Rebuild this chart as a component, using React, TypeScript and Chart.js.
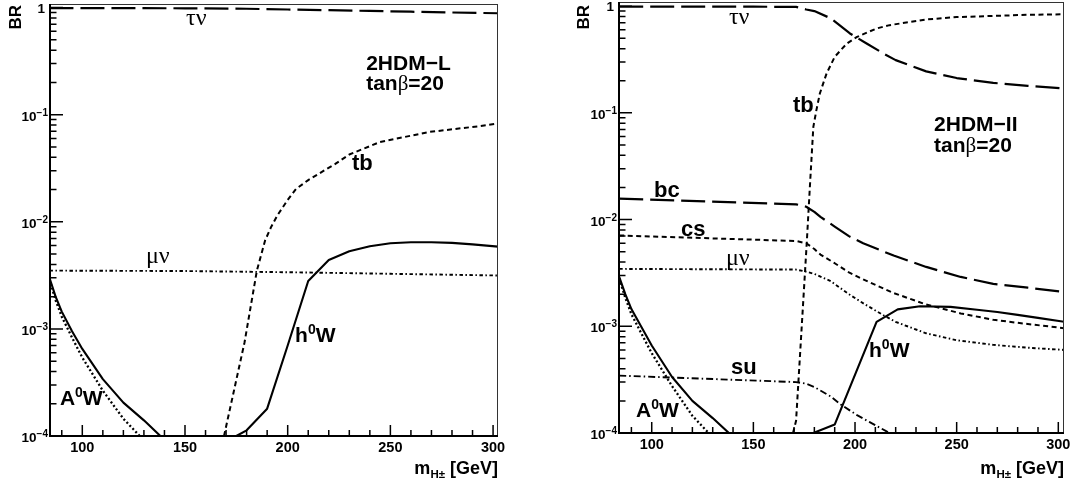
import React, { useEffect, useRef } from "react";
import { Chart, registerables } from "chart.js";

Chart.register(...registerables);

const SANS = '"Liberation Sans", Arimo, Arial, Helvetica, sans-serif';
const SERIF = '"Liberation Serif", "DejaVu Serif", serif';

// ================= Left panel: 2HDM-L, tanβ=20 =================
const xRangeL = [84.27, 302.4];
const yMaxL = 1.08;

const tauNuL_m = [84, 150, 180, 200, 220, 240, 260, 280, 303];
const tauNuL_br = [0.99, 0.985, 0.975, 0.96, 0.945, 0.93, 0.915, 0.9, 0.885];

const muNuL_m = [84, 150, 200, 250, 303];
const muNuL_br = [3.5e-3, 3.47e-3, 3.38e-3, 3.27e-3, 3.15e-3];

const tbL_m = [169, 179, 185, 189, 192, 195, 200, 204, 210, 218, 223, 230, 245, 269, 293, 303];
const tbL_br = [1e-4, 7.5e-4, 3.5e-3, 6.7e-3, 9.0e-3, 0.0115, 0.016, 0.0202, 0.0245, 0.0303, 0.0345, 0.0425, 0.0556, 0.069, 0.078, 0.083];

const h0WL_m = [175, 180, 190, 200, 210, 220, 230, 240, 250, 260, 270, 280, 290, 303];
const h0WL_br = [1e-4, 1.13e-4, 1.8e-4, 7e-4, 2.8e-3, 4.4e-3, 5.3e-3, 5.9e-3, 6.3e-3, 6.45e-3, 6.45e-3, 6.35e-3, 6.15e-3, 5.85e-3];

const A0WL_m = [84, 87, 90, 95, 100, 110, 120, 130, 140];
const A0WL_br = [3.0e-3, 2.0e-3, 1.45e-3, 9.5e-4, 6.5e-4, 3.4e-4, 2.05e-4, 1.4e-4, 9.2e-5];

const A0WdotL_m = [84, 87, 90, 95, 100, 110, 120, 130];
const A0WdotL_br = [2.9e-3, 1.85e-3, 1.3e-3, 8.3e-4, 5.4e-4, 2.65e-4, 1.45e-4, 9.1e-5];

// ================= Right panel: 2HDM-II, tanβ=20 =================
const xRangeR = [83.9, 302.8];
const yMaxR = 1.094;

const tauNuR_m = [84, 150, 171, 176, 180, 188, 197.5, 205.7, 214, 220, 235, 250, 268, 285, 303];
const tauNuR_br = [0.99, 0.988, 0.985, 0.93, 0.9, 0.77, 0.555, 0.447, 0.36, 0.312, 0.245, 0.212, 0.191, 0.179, 0.169];

const tbR_m = [169.5, 171, 176.2, 177.8, 179.5, 181, 182.7, 186, 190, 196, 201, 210.6, 217, 235, 250, 268, 285, 303];
const tbR_br = [1e-4, 1.3e-4, 5.8e-3, 0.0204, 0.074, 0.106, 0.152, 0.234, 0.335, 0.447, 0.515, 0.618, 0.664, 0.75, 0.79, 0.81, 0.83, 0.84];

const bcR_m = [84, 171, 176, 180, 183, 190, 197, 204, 219, 235, 252, 268, 285, 303];
const bcR_br = [0.0157, 0.0139, 0.0132, 0.0118, 0.0106, 8.6e-3, 7.0e-3, 6.0e-3, 4.6e-3, 3.6e-3, 2.9e-3, 2.5e-3, 2.3e-3, 2.1e-3];

const csR_m = [84, 171, 176, 180, 183, 190, 197, 204, 219, 235, 252, 268, 285, 303];
const csR_br = [7.1e-3, 6.3e-3, 6.0e-3, 5.3e-3, 4.7e-3, 3.9e-3, 3.2e-3, 2.75e-3, 2.05e-3, 1.6e-3, 1.32e-3, 1.15e-3, 1.05e-3, 9.6e-4];

const muNuR_m = [84, 171, 176, 180, 188, 197, 205, 214, 220, 235, 250, 268, 285, 303];
const muNuR_br = [3.45e-3, 3.4e-3, 3.25e-3, 3.1e-3, 2.65e-3, 2.0e-3, 1.6e-3, 1.27e-3, 1.1e-3, 8.6e-4, 7.4e-4, 6.7e-4, 6.3e-4, 6.0e-4];

const suR_m = [84, 171, 176, 180, 188, 193, 201, 207, 217, 230];
const suR_br = [3.45e-4, 3.0e-4, 2.9e-4, 2.7e-4, 2.2e-4, 1.85e-4, 1.47e-4, 1.27e-4, 1.0e-4, 7.5e-5];

const h0WR_m = [179.5, 190, 210.6, 221, 232, 247, 260, 270, 280, 290, 303];
const h0WR_br = [1e-4, 1.2e-4, 1.1e-3, 1.44e-3, 1.54e-3, 1.52e-3, 1.43e-3, 1.36e-3, 1.28e-3, 1.2e-3, 1.1e-3];

const A0WR_m = [84, 87, 90, 95, 100, 110, 120, 130, 140];
const A0WR_br = [2.9e-3, 2.0e-3, 1.45e-3, 9.8e-4, 6.6e-4, 3.35e-4, 2.0e-4, 1.38e-4, 9.2e-5];

const A0WdotR_m = [84, 87, 90, 95, 100, 110, 120, 130];
const A0WdotR_br = [2.8e-3, 1.85e-3, 1.3e-3, 8.5e-4, 5.6e-4, 2.75e-4, 1.45e-4, 9.1e-5];

// ================= Axis ticks =================
const xMajorTicks = [100, 150, 200, 250, 300];
const xMajorLabels = ["100", "150", "200", "250", "300"];
const xMinorTicks = [90, 110, 120, 130, 140, 160, 170, 180, 190, 210, 220, 230, 240, 260, 270, 280, 290];
const yMajorTicks = [1e-4, 1e-3, 1e-2, 1e-1, 1];
const yMajorExp = ["−4", "−3", "−2", "−1", ""];
const yMinorMult = [2, 3, 4, 5, 6, 7, 8, 9];
const yDecades = [1e-4, 1e-3, 1e-2, 1e-1];

// ================= Styles =================
const STY = {
  longDash: { w: 2.2, dash: [24, 7] },
  shortDash: { w: 2, dash: [5, 3.5] },
  dashDotSmall: { w: 1.9, dash: [3.5, 2.5, 1.5, 2.5] },
  dashDot: { w: 1.9, dash: [7, 3, 1.5, 3] },
  solid: { w: 2.1, dash: [] as number[] },
  dotted: { w: 2.3, dash: [2, 2.3] },
};

type Part = { t: string; size: number; bold?: boolean; serif?: boolean; dy?: number };
const B = (t: string, size = 22): Part => ({ t, size, bold: true });
const G = (t: string, size = 24): Part => ({ t, size, serif: true });
const SUP0 = (size = 14): Part => ({ t: "0", size, bold: true, dy: -8 });

const fontOf = (p: Part) => `${p.bold ? "bold " : ""}${p.size}px ${p.serif ? SERIF : SANS}`;

function drawParts(ctx: CanvasRenderingContext2D, parts: Part[], x: number, y: number, align: "left" | "right" | "center") {
  const widths = parts.map((p) => {
    ctx.font = fontOf(p);
    return ctx.measureText(p.t).width;
  });
  const total = widths.reduce((a, b) => a + b, 0);
  let cx = align === "left" ? x : align === "right" ? x - total : x - total / 2;
  ctx.textAlign = "left";
  ctx.textBaseline = "alphabetic";
  parts.forEach((p, i) => {
    ctx.font = fontOf(p);
    ctx.fillText(p.t, cx, y + (p.dy || 0));
    cx += widths[i];
  });
}

const pts = (xs: number[], ys: number[]) => xs.map((x, i) => ({ x, y: ys[i] }));

const panelL = {
  xRange: xRangeL,
  yMax: yMaxL,
  padding: { top: 4, right: 32, left: 0, bottom: 0 },
  yAxisW: 50,
  xAxisH: 51,
  brX: 16,
  xLabelBase: 452,
  series: [
    { x: tauNuL_m, y: tauNuL_br, s: STY.longDash },
    { x: muNuL_m, y: muNuL_br, s: STY.dashDotSmall },
    { x: tbL_m, y: tbL_br, s: STY.shortDash },
    { x: h0WL_m, y: h0WL_br, s: STY.solid },
    { x: A0WL_m, y: A0WL_br, s: STY.solid },
    { x: A0WdotL_m, y: A0WdotL_br, s: STY.dotted },
  ],
  labels: [
    { parts: [G("τν")], x: 150.5, y: 0.684 },
    { parts: [G("μν")], x: 131.0, y: 4.1e-3 },
    { parts: [B("tb")], x: 231.3, y: 0.0303 },
    { parts: [B("h", 21), SUP0(), B("W", 21)], x: 203.6, y: 7.55e-4 },
    { parts: [B("A", 21), SUP0(), B("W", 21)], x: 89.1, y: 1.94e-4 },
    { parts: [B("2HDM−L", 21)], x: 238.2, y: 0.26 },
    { parts: [B("tan", 21), G("β", 21), B("=20", 21)], x: 238.2, y: 0.169 },
  ],
};

const panelR = {
  xRange: xRangeR,
  yMax: yMaxR,
  padding: { top: 2, right: 9, left: 0, bottom: 0 },
  yAxisW: 89,
  xAxisH: 54,
  brX: 54,
  xLabelBase: 449,
  series: [
    { x: tauNuR_m, y: tauNuR_br, s: STY.longDash },
    { x: tbR_m, y: tbR_br, s: STY.shortDash },
    { x: bcR_m, y: bcR_br, s: STY.longDash },
    { x: csR_m, y: csR_br, s: STY.shortDash },
    { x: muNuR_m, y: muNuR_br, s: STY.dashDotSmall },
    { x: suR_m, y: suR_br, s: STY.dashDot },
    { x: h0WR_m, y: h0WR_br, s: STY.solid },
    { x: A0WR_m, y: A0WR_br, s: STY.solid },
    { x: A0WdotR_m, y: A0WdotR_br, s: STY.dotted },
  ],
  labels: [
    { parts: [G("τν")], x: 138.0, y: 0.678 },
    { parts: [B("tb")], x: 169.5, y: 0.1015 },
    { parts: [B("bc")], x: 101.1, y: 0.0162 },
    { parts: [B("cs")], x: 114.4, y: 6.99e-3 },
    { parts: [G("μν")], x: 136.5, y: 3.74e-3 },
    { parts: [B("su")], x: 139, y: 3.56e-4 },
    { parts: [B("A", 21), SUP0(), B("W", 21)], x: 92.3, y: 1.42e-4 },
    { parts: [B("h", 21), SUP0(), B("W", 21)], x: 206.9, y: 5.16e-4 },
    { parts: [B("2HDM−II", 21)], x: 238.9, y: 0.0674 },
    { parts: [B("tan", 21), G("β", 21), B("=20", 21)], x: 238.9, y: 0.0428 },
  ],
};

type PanelCfg = typeof panelL;

const decor = {
  id: "decor",
  afterDatasetsDraw(chart: any, _args: any, opts: any) {
    const cfg: PanelCfg = opts.cfg;
    const ctx: CanvasRenderingContext2D = chart.ctx;
    const a = chart.chartArea;
    const xs = chart.scales.x;
    const ys = chart.scales.y;
    ctx.save();
    ctx.fillStyle = "#000";
    ctx.strokeStyle = "#000";

    // frame
    ctx.lineWidth = 1;
    ctx.strokeStyle = "#333";
    ctx.strokeRect(a.left + 0.5, a.top + 0.5, a.right - a.left - 1, a.bottom - a.top - 1);
    ctx.strokeStyle = "#000";
    ctx.lineWidth = 2;
    ctx.beginPath();
    ctx.moveTo(a.left, a.top);
    ctx.lineTo(a.left, a.bottom);
    ctx.lineTo(a.right, a.bottom);
    ctx.stroke();

    // x ticks
    ctx.lineWidth = 1.5;
    ctx.beginPath();
    xMajorTicks.forEach((v) => {
      const px = xs.getPixelForValue(v);
      ctx.moveTo(px, a.bottom);
      ctx.lineTo(px, a.bottom - 11);
    });
    xMinorTicks.forEach((v) => {
      const px = xs.getPixelForValue(v);
      ctx.moveTo(px, a.bottom);
      ctx.lineTo(px, a.bottom - 6);
    });
    // y ticks
    yMajorTicks.forEach((v) => {
      const py = ys.getPixelForValue(v);
      ctx.moveTo(a.left, py);
      ctx.lineTo(a.left + 13, py);
    });
    yDecades.forEach((d) =>
      yMinorMult.forEach((m) => {
        const v = d * m;
        if (v > cfg.yMax) return;
        const py = ys.getPixelForValue(v);
        ctx.moveTo(a.left, py);
        ctx.lineTo(a.left + 6.5, py);
      })
    );
    ctx.stroke();

    // x tick labels
    xMajorTicks.forEach((v, i) => {
      drawParts(ctx, [B(xMajorLabels[i], 14.5)], xs.getPixelForValue(v), cfg.xLabelBase, "center");
    });
    // y tick labels
    yMajorTicks.forEach((v, i) => {
      const py = ys.getPixelForValue(v);
      if (yMajorExp[i] === "") {
        drawParts(ctx, [B("1", 13.5)], a.left - 5, py + 5, "right");
      } else {
        drawParts(
          ctx,
          [B("10", 13.5), { t: yMajorExp[i], size: 10, bold: true, dy: -5 }],
          a.left - 2,
          py + 6,
          "right"
        );
      }
    });

    // axis titles
    drawParts(ctx, [B("m", 18), { t: "H±", size: 11.5, bold: true, dy: 4 }, B(" [GeV]", 18)], a.right, 474, "right");
    ctx.save();
    ctx.translate(cfg.brX, 5);
    ctx.rotate(-Math.PI / 2);
    ctx.font = `bold 17px ${SANS}`;
    ctx.textAlign = "right";
    ctx.textBaseline = "middle";
    ctx.fillText("BR", 0, 0);
    ctx.restore();

    // curve annotations
    cfg.labels.forEach((l) => {
      drawParts(ctx, l.parts, xs.getPixelForValue(l.x), ys.getPixelForValue(l.y), "left");
    });
    ctx.restore();
  },
};

function makeConfig(cfg: PanelCfg): any {
  return {
    type: "line",
    data: {
      datasets: cfg.series.map((s) => ({
        data: pts(s.x, s.y),
        borderColor: "#000",
        backgroundColor: "#000",
        borderWidth: s.s.w,
        borderDash: s.s.dash,
        borderCapStyle: "butt",
        borderJoinStyle: "round",
        pointRadius: 0,
        fill: false,
        tension: 0,
      })),
    },
    options: {
      animation: false,
      responsive: false,
      devicePixelRatio: 1,
      layout: { padding: cfg.padding },
      plugins: {
        legend: { display: false },
        tooltip: { enabled: false },
        decor: { cfg },
      },
      scales: {
        x: {
          type: "linear",
          min: cfg.xRange[0],
          max: cfg.xRange[1],
          grid: { display: false },
          ticks: { display: false },
          border: { display: false },
          afterFit: (s: any) => {
            s.height = cfg.xAxisH;
          },
        },
        y: {
          type: "logarithmic",
          min: 1e-4,
          max: cfg.yMax,
          grid: { display: false },
          ticks: { display: false },
          border: { display: false },
          afterFit: (s: any) => {
            s.width = cfg.yAxisW;
          },
        },
      },
    },
    plugins: [decor],
  };
}

function Panel({ cfg, left, width }: { cfg: PanelCfg; left: number; width: number }) {
  const ref = useRef<HTMLCanvasElement>(null);
  useEffect(() => {
    const chart = new Chart(ref.current as HTMLCanvasElement, makeConfig(cfg));
    return () => chart.destroy();
  }, [cfg]);
  return (
    <canvas
      ref={ref}
      width={width}
      height={487}
      style={{ position: "absolute", left, top: 0, width, height: 487, display: "block" }}
    />
  );
}

export default function App() {
  return (
    <div style={{ position: "fixed", left: 0, top: 0, width: 1073, height: 487, background: "#fff", overflow: "hidden" }}>
      <Panel cfg={panelL} left={0} width={530} />
      <Panel cfg={panelR} left={530} width={543} />
    </div>
  );
}
